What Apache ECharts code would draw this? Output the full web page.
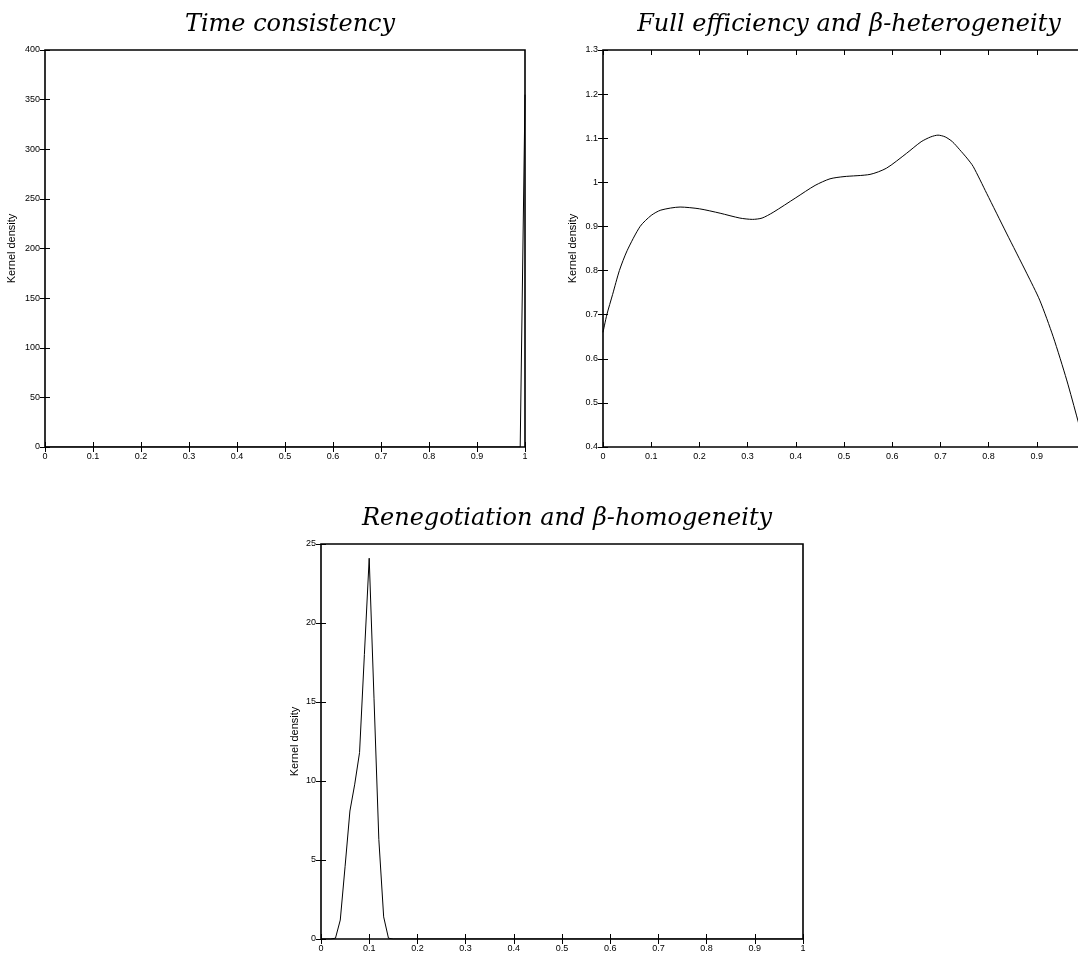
<!DOCTYPE html>
<html>
<head>
<meta charset="utf-8">
<script src="https://cdn.jsdelivr.net/npm/echarts@6/dist/echarts.min.js"></script>
<style>
html,body{margin:0;padding:0;background:#fff;}
#chart{width:1078px;height:956px;}
</style>
</head>
<body>
<div id="chart"></div>
<script>
// ---- Data ----
const titles = ['Time consistency', 'Full efficiency and \u03B2-heterogeneity', 'Renegotiation and \u03B2-homogeneity'];
const yAxisName = 'Kernel density';

// Panel 1: Time consistency
const timeX = [0, 0.99, 1.0];
const timeY = [0, 0, 355];

// Panel 2: Full efficiency and beta-heterogeneity
const effX = [0, 0.008, 0.02, 0.034, 0.05, 0.077, 0.1, 0.12, 0.16, 0.2, 0.243, 0.284, 0.31, 0.33, 0.353, 0.4, 0.44, 0.471, 0.5, 0.554, 0.588, 0.63, 0.66, 0.68, 0.695, 0.71, 0.725, 0.74, 0.755, 0.768, 0.796, 0.837, 0.879, 0.906, 0.934, 0.962, 0.985, 1.0];
const effY = [0.66, 0.70, 0.746, 0.80, 0.845, 0.90, 0.925, 0.937, 0.944, 0.94, 0.93, 0.919, 0.916, 0.919, 0.932, 0.965, 0.993, 1.008, 1.013, 1.018, 1.032, 1.066, 1.092, 1.103, 1.107, 1.103, 1.092, 1.074, 1.055, 1.036, 0.975, 0.885, 0.794, 0.733, 0.65, 0.552, 0.461, 0.40];

// Panel 3: Renegotiation and beta-homogeneity
const renX = [0, 0.02, 0.03, 0.04, 0.05, 0.06, 0.07, 0.08, 0.09, 0.1, 0.11, 0.12, 0.13, 0.14, 0.15, 1.0];
const renY = [0, 0, 0.05, 1.2, 4.6, 8.1, 9.8, 11.8, 18.0, 24.1, 15.2, 6.3, 1.4, 0.05, 0, 0];

// Axis ranges
const xRange = [0, 1, 0.1];
const yRanges = [[0, 400, 50], [0.4, 1.3, 0.1], [0, 25, 5]];

// ---- Chart ----
const pair = (xs, ys) => xs.map((x, i) => [x, ys[i]]);
const grids = [
  {left: 45, top: 50, width: 480, height: 397, nameGap: 28},
  {left: 603, top: 50, width: 482, height: 397, nameGap: 25},
  {left: 321, top: 544, width: 482, height: 395, nameGap: 21}
];
const titleTops = [8, 8, 502];
const mkLabel = () => ({show: true, fontSize: 9, color: '#000', fontFamily: 'Liberation Sans', margin: 5});
const mkTick = () => ({show: true, inside: true, length: 5, lineStyle: {color: '#000', width: 1}});

const xAxes = [], yAxes = [];
grids.forEach((g, i) => {
  xAxes.push({type: 'value', gridIndex: i, position: 'bottom', min: xRange[0], max: xRange[1], interval: xRange[2],
    axisLine: {show: false}, axisTick: mkTick(), splitLine: {show: false}, axisLabel: mkLabel()});
  xAxes.push({type: 'value', gridIndex: i, position: 'top', min: xRange[0], max: xRange[1], interval: xRange[2],
    axisLine: {show: false}, axisTick: mkTick(), splitLine: {show: false}, axisLabel: {show: false}});
  const r = yRanges[i];
  yAxes.push({type: 'value', gridIndex: i, position: 'left', min: r[0], max: r[1], interval: r[2],
    name: yAxisName, nameLocation: 'middle', nameRotate: 90, nameGap: g.nameGap,
    nameTextStyle: {fontSize: 11, color: '#000', fontFamily: 'Liberation Sans'},
    axisLine: {show: false}, axisTick: mkTick(), splitLine: {show: false}, axisLabel: mkLabel()});
  yAxes.push({type: 'value', gridIndex: i, position: 'right', min: r[0], max: r[1], interval: r[2],
    axisLine: {show: false}, axisTick: mkTick(), splitLine: {show: false}, axisLabel: {show: false}});
});

const titleStyle = {fontFamily: 'DejaVu Serif', fontStyle: 'italic', fontWeight: 'normal', fontSize: 24, color: '#000'};
const option = {
  animation: false,
  backgroundColor: '#fff',
  title: titles.map((t, i) => ({
    text: t, left: grids[i].left + grids[i].width / 2, top: titleTops[i], textAlign: 'center', textStyle: titleStyle
  })),
  grid: grids.map(g => ({left: g.left, top: g.top, width: g.width, height: g.height, show: true,
    outerBoundsMode: 'none', containLabel: false,
    borderColor: '#000', borderWidth: 1.6, backgroundColor: 'transparent'})),
  xAxis: xAxes,
  yAxis: yAxes,
  series: [
    {type: 'line', xAxisIndex: 0, yAxisIndex: 0, data: pair(timeX, timeY), showSymbol: false, clip: true,
      lineStyle: {color: '#000', width: 1}},
    {type: 'line', xAxisIndex: 2, yAxisIndex: 2, data: pair(effX, effY), showSymbol: false, smooth: 0.25, clip: true,
      lineStyle: {color: '#000', width: 1}},
    {type: 'line', xAxisIndex: 4, yAxisIndex: 4, data: pair(renX, renY), showSymbol: false, clip: true,
      lineStyle: {color: '#000', width: 1}}
  ]
};
const chart = echarts.init(document.getElementById('chart'), null, {renderer: 'canvas'});
chart.setOption(option);
</script>
</body>
</html>
